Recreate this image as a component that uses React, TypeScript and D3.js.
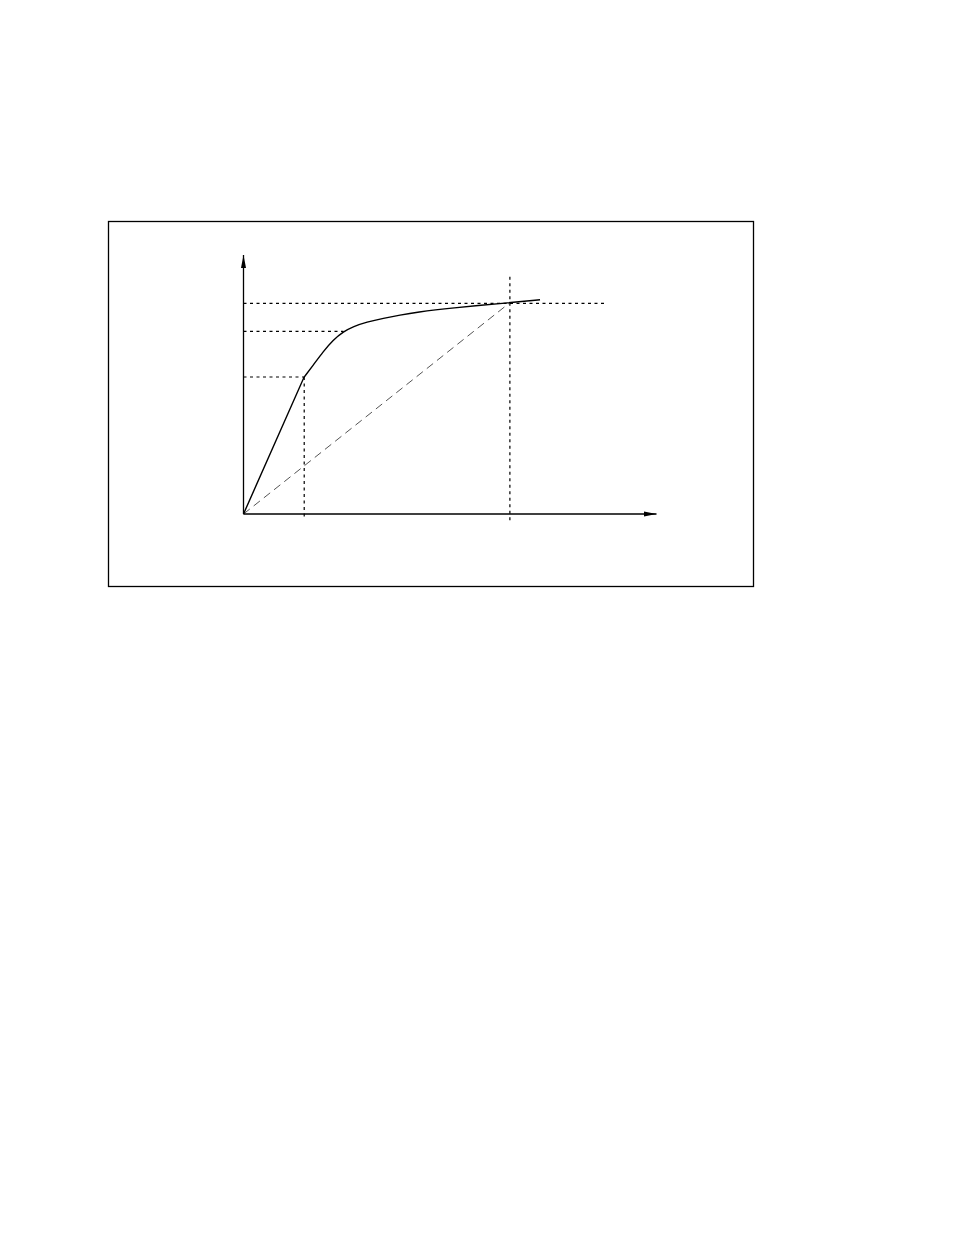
import * as d3 from 'd3';

// curve, in axis units (0..100 on both axes)
const kneeX = 14.65;
const kneeY = 52.8;
const curveX = [14.65, 16.9, 19.3, 21.7, 24.2, 26.6, 29.8, 33.9, 37.9, 41.9, 50.0, 64.5, 71.8];
const curveY = [52.8, 57.5, 62.7, 67.2, 70.4, 72.4, 74.1, 75.6, 76.8, 77.9, 79.5, 81.6, 82.7];

// dotted guide lines
const guideLevels = [52.9, 70.5, 81.3];
const guideEnds = [14.7, 24.2, 88];
const markerX = [14.7, 64.5];
const markerTop = [52.9, 91.6];
const markerBottom = [-1.9, -3.6];

// dashed chord from origin
const chordEnd = [64.5, 81.6];

export default function App() {
  const width = 954;
  const height = 1235;
  const x = d3.scaleLinear().domain([0, 100]).range([243.5, 656.5]);
  const y = d3.scaleLinear().domain([0, 100]).range([514, 255]);

  const pts = curveX.map((v, i) => [v, curveY[i]] as [number, number]);
  const line = d3
    .line<[number, number]>()
    .x((d) => x(d[0]))
    .y((d) => y(d[1]))
    .curve(d3.curveBasis);
  const curvePath =
    `M${x(0)},${y(0)}L${x(kneeX)},${y(kneeY)}` + (line(pts) || '').replace(/^M[^LC]*/, '');

  return (
    <svg
      width={width}
      height={height}
      style={{ position: 'absolute', left: 0, top: 0, background: '#fff' }}
    >
      <defs>
        <marker
          id="arrow"
          viewBox="0 0 13 6"
          refX={13}
          refY={3}
          markerWidth={13}
          markerHeight={6}
          markerUnits="userSpaceOnUse"
          orient="auto"
        >
          <path d="M0,0.5L13,3L0,5.5Z" fill="#000" />
        </marker>
      </defs>
      {/* frame */}
      <rect x={108.5} y={221.5} width={645} height={365} fill="none" stroke="#000" strokeWidth={1.3} />

      {/* guides */}
      {guideLevels.map((lv, i) => (
        <line
          key={`h${i}`}
          x1={x(0)}
          x2={x(guideEnds[i])}
          y1={y(lv)}
          y2={y(lv)}
          stroke="#000"
          strokeWidth={1.2}
          strokeDasharray="3,3.5"
        />
      ))}
      {markerX.map((mx, i) => (
        <line
          key={`v${i}`}
          x1={x(mx)}
          x2={x(mx)}
          y1={y(markerTop[i])}
          y2={y(markerBottom[i])}
          stroke="#000"
          strokeWidth={1.2}
          strokeDasharray="3,3.5"
        />
      ))}

      {/* dashed chord */}
      <line
        x1={x(0)}
        y1={y(0)}
        x2={x(chordEnd[0])}
        y2={y(chordEnd[1])}
        stroke="#555"
        strokeWidth={1}
        strokeDasharray="8,5"
      />

      {/* axes */}
      <line x1={x(0)} y1={y(0)} x2={x(0)} y2={y(100)} stroke="#000" strokeWidth={1.3} markerEnd="url(#arrow)" />
      <line x1={x(0)} y1={y(0)} x2={x(100)} y2={y(0)} stroke="#000" strokeWidth={1.3} markerEnd="url(#arrow)" />

      {/* curve */}
      <path d={curvePath} fill="none" stroke="#000" strokeWidth={1.4} />
    </svg>
  );
}
